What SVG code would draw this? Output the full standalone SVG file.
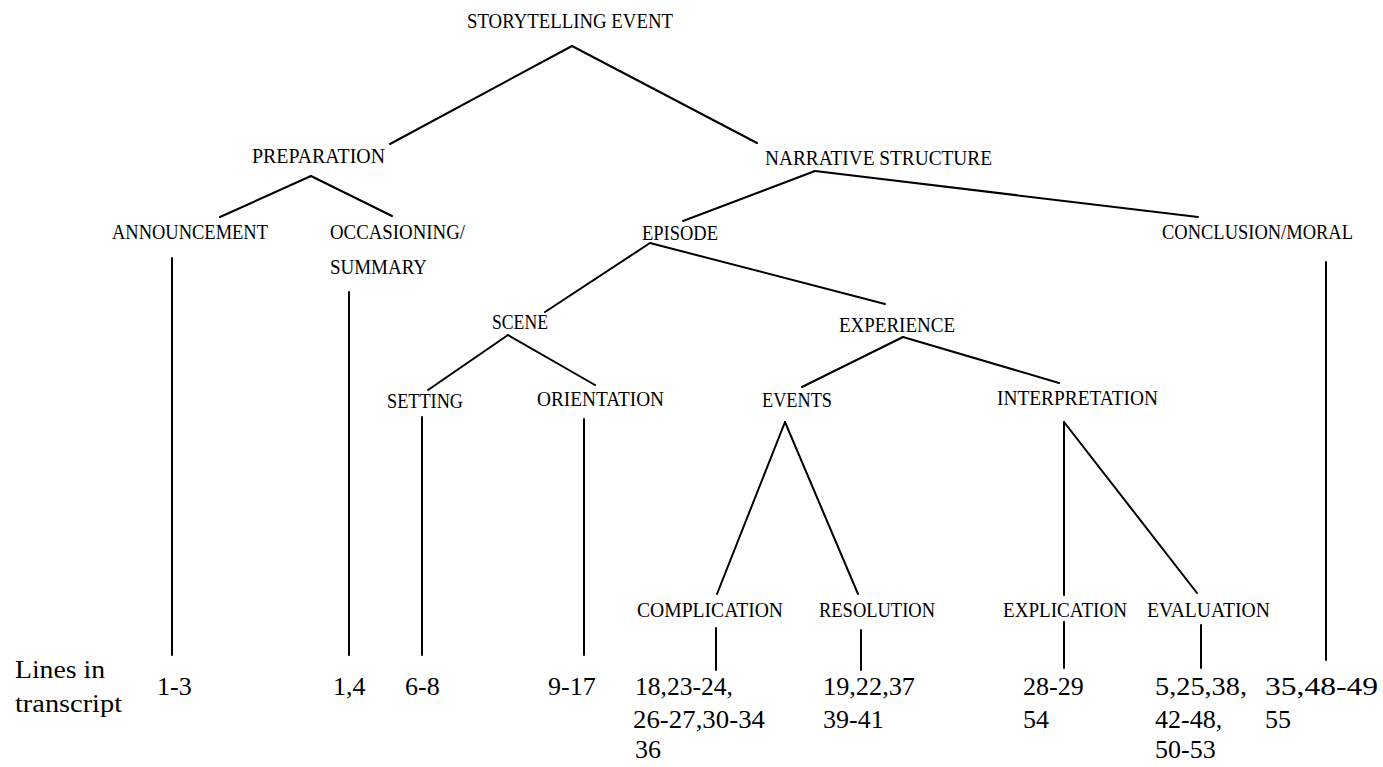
<svg xmlns="http://www.w3.org/2000/svg" width="1383" height="767" viewBox="0 0 1383 767">
<style>
.lbl{font-family:"Liberation Serif","Times New Roman",serif;font-size:22px;fill:#000}
.num{font-family:"Liberation Serif","Times New Roman",serif;font-size:26px;fill:#000}
.cn line{stroke:#000;stroke-width:2;stroke-linecap:round}
</style>
<rect width="1383" height="767" fill="#fff"/>
<g id="connectors" class="cn">
<line x1="572" y1="46" x2="390" y2="144"/>
<line x1="572" y1="46" x2="757" y2="143"/>
<line x1="311" y1="176" x2="220" y2="217"/>
<line x1="311" y1="176" x2="392" y2="216"/>
<line x1="815" y1="171" x2="683" y2="221"/>
<line x1="815" y1="171" x2="1198" y2="217"/>
<line x1="650" y1="243" x2="545" y2="312"/>
<line x1="650" y1="243" x2="885" y2="304"/>
<line x1="508" y1="335" x2="428" y2="390"/>
<line x1="508" y1="335" x2="595" y2="385"/>
<line x1="903" y1="337" x2="802" y2="387"/>
<line x1="903" y1="337" x2="1059" y2="383"/>
<line x1="785" y1="422" x2="717" y2="594"/>
<line x1="785" y1="422" x2="858" y2="594"/>
<line x1="1064" y1="422" x2="1064" y2="595"/>
<line x1="1064" y1="422" x2="1197" y2="593"/>
<line x1="172" y1="258" x2="172" y2="655"/>
<line x1="349" y1="292" x2="349" y2="655"/>
<line x1="422" y1="417" x2="422" y2="655"/>
<line x1="584" y1="419" x2="584" y2="655"/>
<line x1="1326" y1="262" x2="1326" y2="660"/>
<line x1="716" y1="628" x2="716" y2="670"/>
<line x1="861" y1="630" x2="861" y2="670"/>
<line x1="1064" y1="622" x2="1064" y2="668"/>
<line x1="1201" y1="625" x2="1201" y2="668"/>
</g>
<g id="storytelling-event"><text class="lbl" x="467" y="28" textLength="206" lengthAdjust="spacingAndGlyphs">STORYTELLING EVENT</text></g>
<g id="preparation"><text class="lbl" x="252" y="163" textLength="133" lengthAdjust="spacingAndGlyphs">PREPARATION</text></g>
<g id="narrative-structure"><text class="lbl" x="765" y="165" textLength="227" lengthAdjust="spacingAndGlyphs">NARRATIVE STRUCTURE</text></g>
<g id="announcement"><text class="lbl" x="112" y="239" textLength="156" lengthAdjust="spacingAndGlyphs">ANNOUNCEMENT</text></g>
<g id="occasioning-summary"><text class="lbl" x="330" y="239" textLength="135" lengthAdjust="spacingAndGlyphs">OCCASIONING/</text><text class="lbl" x="330" y="274" textLength="97" lengthAdjust="spacingAndGlyphs">SUMMARY</text></g>
<g id="episode"><text class="lbl" x="642" y="240" textLength="76" lengthAdjust="spacingAndGlyphs">EPISODE</text></g>
<g id="conclusion-moral"><text class="lbl" x="1162" y="239" style="font-size:20px" textLength="191" lengthAdjust="spacingAndGlyphs">CONCLUSION/MORAL</text></g>
<g id="scene"><text class="lbl" x="492" y="329" textLength="56" lengthAdjust="spacingAndGlyphs">SCENE</text></g>
<g id="experience"><text class="lbl" x="839" y="332" textLength="116" lengthAdjust="spacingAndGlyphs">EXPERIENCE</text></g>
<g id="setting"><text class="lbl" x="387" y="408" textLength="76" lengthAdjust="spacingAndGlyphs">SETTING</text></g>
<g id="orientation"><text class="lbl" x="537" y="406" textLength="127" lengthAdjust="spacingAndGlyphs">ORIENTATION</text></g>
<g id="events"><text class="lbl" x="762" y="407" textLength="70" lengthAdjust="spacingAndGlyphs">EVENTS</text></g>
<g id="interpretation"><text class="lbl" x="997" y="405" textLength="161" lengthAdjust="spacingAndGlyphs">INTERPRETATION</text></g>
<g id="complication"><text class="lbl" x="637" y="617" textLength="146" lengthAdjust="spacingAndGlyphs">COMPLICATION</text></g>
<g id="resolution"><text class="lbl" x="819" y="617" textLength="116" lengthAdjust="spacingAndGlyphs">RESOLUTION</text></g>
<g id="explication"><text class="lbl" x="1003" y="617" textLength="124" lengthAdjust="spacingAndGlyphs">EXPLICATION</text></g>
<g id="evaluation"><text class="lbl" x="1147" y="617" textLength="123" lengthAdjust="spacingAndGlyphs">EVALUATION</text></g>
<g id="lines-in-transcript"><text class="num" x="15" y="678" textLength="90" lengthAdjust="spacingAndGlyphs">Lines in</text><text class="num" x="15" y="712" textLength="107" lengthAdjust="spacingAndGlyphs">transcript</text></g>
<g id="n-announcement"><text class="num" x="157" y="695">1-3</text></g>
<g id="n-occasioning"><text class="num" x="333" y="695">1,4</text></g>
<g id="n-setting"><text class="num" x="405" y="695">6-8</text></g>
<g id="n-orientation"><text class="num" x="548" y="695">9-17</text></g>
<g id="n-complication"><text class="num" x="635" y="695" textLength="98" lengthAdjust="spacingAndGlyphs">18,23-24,</text><text class="num" x="633" y="728" textLength="132" lengthAdjust="spacingAndGlyphs">26-27,30-34</text><text class="num" x="635" y="758">36</text></g>
<g id="n-resolution"><text class="num" x="823" y="695" textLength="92" lengthAdjust="spacingAndGlyphs">19,22,37</text><text class="num" x="823" y="728">39-41</text></g>
<g id="n-explication"><text class="num" x="1023" y="695">28-29</text><text class="num" x="1023" y="728">54</text></g>
<g id="n-evaluation"><text class="num" x="1155" y="695" textLength="92" lengthAdjust="spacingAndGlyphs">5,25,38,</text><text class="num" x="1155" y="728">42-48,</text><text class="num" x="1155" y="758">50-53</text></g>
<g id="n-conclusion"><text class="num" x="1265" y="695" textLength="113" lengthAdjust="spacingAndGlyphs">35,48-49</text><text class="num" x="1265" y="728">55</text></g>
</svg>
